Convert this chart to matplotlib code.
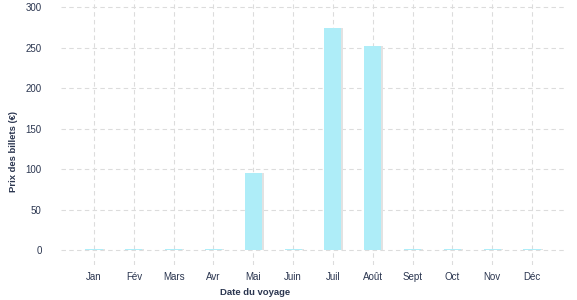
import numpy as np
import matplotlib.pyplot as plt

plt.rcParams['font.family'] = ['Liberation Sans', 'DejaVu Sans']

months = ['Jan', 'Fév', 'Mars', 'Avr', 'Mai', 'Juin', 'Juil', 'Août', 'Sept', 'Oct', 'Nov', 'Déc']
prices = [2, 2, 2, 2, 95, 2, 275, 252, 2, 2, 2, 2]

text_col = '#2b3650'
bar_col = '#aeedf8'

fig = plt.figure(figsize=(5.77, 3.0), dpi=100)
ax = fig.add_axes([61 / 577, 35 / 300, 506 / 577, 265 / 300])
ax.set_axisbelow(True)

x = np.arange(len(months))
ax.bar(x + 0.05, prices, width=0.43, color='#e2e2e2', zorder=2)
ax.bar(x, prices, width=0.43, color=bar_col, zorder=3)

ax.set_xlim(-0.83, 11.88)
ax.set_ylim(-18, 309)
ax.set_yticks([0, 50, 100, 150, 200, 250, 300])
ax.set_xticks(x)
ax.set_xticklabels(months)

ax.grid(True, color='#dcdcdc', linestyle=(0, (4, 3)), linewidth=0.8, zorder=0)
for s in ax.spines.values():
    s.set_visible(False)
ax.tick_params(length=0, labelsize=7, colors=text_col)
ax.tick_params(axis='y', pad=14)
ax.tick_params(axis='x', pad=5)

ax.set_xlabel('Date du voyage', fontsize=6.8, fontweight='bold', color=text_col)
ax.xaxis.set_label_coords((255 - 61) / 506, -0.085)
ax.set_ylabel('Prix des billets (€)', fontsize=6.8, fontweight='bold', color=text_col)
ax.yaxis.set_label_coords(-0.085, 0.43)

plt.savefig('out.png', dpi=100)
